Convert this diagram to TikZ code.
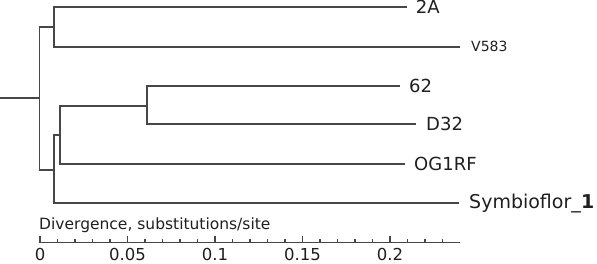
\documentclass[tikz,border=0pt]{standalone}
\usepackage{fontspec}
\setmainfont{DejaVu Sans}
\usetikzlibrary{positioning, calc}
\tikzset{
  branch/.style={line width=1.9pt, draw=black!72},
  scaleline/.style={line width=1.4pt, draw=black!72},
  leaflbl/.style={font=\fontsize{18}{20}\selectfont, text=black!88, inner sep=0pt},
  ticklbl/.style={font=\fontsize{16.5}{18}\selectfont, text=black!88, anchor=north, inner sep=0pt},
}
\begin{document}
\begin{tikzpicture}[x=1pt, y=-1pt]
\useasboundingbox (0,0) rectangle (597,264);
% internal nodes of the tree
\coordinate (stub) at (0,97.7);
\coordinate (root) at (39.5,97.7);
\coordinate (nA) at (54.3,26.7);
\coordinate (nB) at (54.3,170);
\coordinate (nC) at (60,135);
\coordinate (nD) at (146.7,106);
% tips
\coordinate (t2A) at (406.7,6.7);
\coordinate (tV583) at (460,46.7);
\coordinate (t62) at (400,86);
\coordinate (tD32) at (416,124.3);
\coordinate (tOG) at (405,164.3);
\coordinate (tSym) at (459,203.3);
% branches
\draw[branch] (stub) -- (root);
\draw[branch] (nA) -| (root) |- (nB);
\draw[branch] (t2A) -| (nA) |- (tV583);
\draw[branch] (nC) -| (nB) |- (tSym);
\draw[branch] (nD) -| (nC) |- (tOG);
\draw[branch] (t62) -| (nD) |- (tD32);
% leaf labels
\node[leaflbl, right=9pt of t2A] (l2A) {2A};
\node[leaflbl, right=11pt of tV583, font=\fontsize{14}{16}\selectfont] (lV583) {V583};
\node[leaflbl, right=9pt of t62] (l62) {62};
\node[leaflbl, right=10pt of tD32] (lD32) {D32};
\node[leaflbl, right=9pt of tOG] (lOG) {OG1RF};
\node[leaflbl, right=10pt of tSym, font=\fontsize{19}{21}\selectfont] (lSym) {Symbioflor\_\textbf{1}};
% scale bar
\coordinate (ax0) at (40,242.7);
\coordinate (ax1) at (460,242.7);
\draw[scaleline] (ax0) -- (ax1);
\foreach \i in {0,...,23}
  \draw[scaleline] ($(ax0)+(17.5*\i,0)$) -- ++(0,-3.5);
\foreach \v/\i in {0/0,0.05/5,0.1/10,0.15/15,0.2/20}{
  \draw[scaleline] ($(ax0)+(17.5*\i,0)$) -- ++(0,-7);
  \node[ticklbl] (tick\i) at ($(ax0)+(17.5*\i,5)$) {\v};
}
\node[font=\fontsize{15.5}{17}\selectfont, text=black!88, anchor=base west, inner sep=0pt] (axtitle) at (39,229.5) {Divergence, substitutions/site};
\end{tikzpicture}
\end{document}
